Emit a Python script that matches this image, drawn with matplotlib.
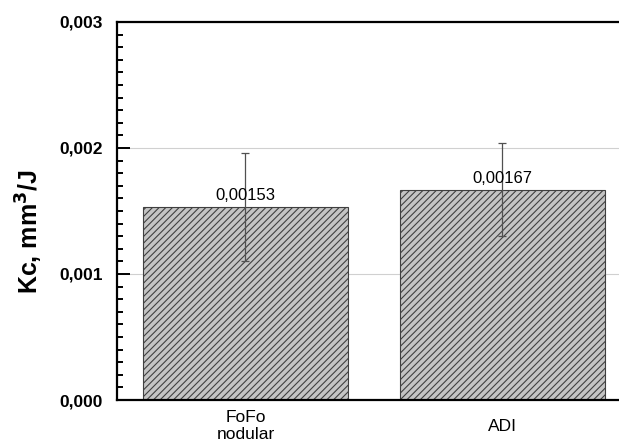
import matplotlib
matplotlib.use('Agg')
import matplotlib.pyplot as plt
from matplotlib.ticker import MultipleLocator, FuncFormatter

plt.rcParams['font.family'] = ['Liberation Sans', 'DejaVu Sans']
plt.rcParams['hatch.color'] = '#505050'
plt.rcParams['hatch.linewidth'] = 0.8

# data
categories = ['FoFo\nnodular', 'ADI']
kc_values = [0.00153, 0.00167]
kc_errors = [0.00043, 0.00037]
value_labels = ['0,00153', '0,00167']

fig = plt.figure(figsize=(6.19, 4.44), dpi=100)
ax = fig.add_axes([117 / 619, 44 / 444, (631 - 117) / 619, (400 - 22) / 444])

x = range(len(categories))
ax.bar(x, kc_values, width=0.8, color='#c4c4c4', edgecolor='#404040',
       linewidth=0.8, hatch='/////', zorder=2)
ax.errorbar(x, kc_values, yerr=kc_errors, fmt='none', ecolor='#505050',
            elinewidth=0.9, capsize=3, capthick=0.9, zorder=3)

for xi, v, lab in zip(x, kc_values, value_labels):
    ax.text(xi, v + 0.00003, lab, ha='center', va='bottom', fontsize=12, zorder=4)

ax.set_xlim(-0.5, 1.5)
ax.set_ylim(0, 0.003)

ax.yaxis.set_major_locator(MultipleLocator(0.001))
ax.yaxis.set_minor_locator(MultipleLocator(0.0001))
ax.yaxis.set_major_formatter(FuncFormatter(lambda v, p: f'{v:.3f}'.replace('.', ',')))
ax.tick_params(axis='y', which='major', direction='in', length=9, width=1.4,
               labelsize=12.5, pad=10)
ax.tick_params(axis='y', which='minor', direction='in', length=4.5, width=1.4)
for t in ax.get_yticklabels():
    t.set_fontweight('bold')

ax.set_xticks(list(x))
ax.set_xticklabels(categories, fontsize=12.5)
ax.tick_params(axis='x', length=0, pad=19)
for t in ax.get_xticklabels():
    t.set_verticalalignment('center')
    t.set_linespacing(1.15)

ax.grid(axis='y', color='#d0d0d0', linewidth=0.8, zorder=0)
ax.set_axisbelow(True)

for side in ['left', 'bottom', 'top']:
    ax.spines[side].set_linewidth(1.6)
ax.spines['right'].set_visible(False)

ax.set_ylabel('Kc, mm$^\\mathbf{3}$/J', fontsize=18, fontweight='bold')
ax.yaxis.set_label_coords(-0.140, 0.444)

fig.savefig('out.png', dpi=100)
